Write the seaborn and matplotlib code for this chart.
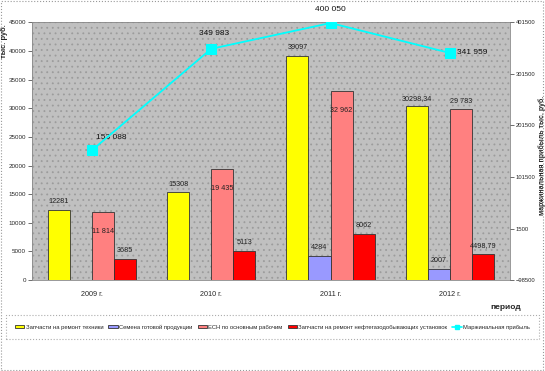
import pandas as pd
import matplotlib
matplotlib.use("Agg")
import matplotlib.pyplot as plt
import matplotlib.patches as mpatches
from matplotlib.lines import Line2D
import seaborn as sns

# data
years = ["2009 г.", "2010 г.", "2011 г.", "2012 г."]
series = [
    "Запчасти на ремонт техники",
    "Семена готовой продукции",
    "ЕСН по основным рабочим",
    "Запчасти на ремонт нефтегазодобывающих установок",
]
parts = [12281, 15308, 39097, 30298.34]
seeds = [0, 0, 4284, 2007]
esn = [11814, 19435, 32962, 29783]
oil_parts = [3685, 5113, 8062, 4498.79]
profit = [153088, 349983, 400050, 341959]

parts_lbl = ["12281", "15308", "39097", "30298,34"]
seeds_lbl = ["", "", "4284", "2007"]
esn_lbl = ["11 814", "19 435", "32 962", "29 783"]
oil_lbl = ["3685", "5113", "8062", "4498,79"]
profit_lbl = ["153 088", "349 983", "400 050", "341 959"]

colors = ["#FFFF00", "#9999FF", "#FF8080", "#FF0000"]

rows = []
for s, vals in zip(series, [parts, seeds, esn, oil_parts]):
    for y, v in zip(years, vals):
        rows.append({"year": y, "series": s, "value": v})
df = pd.DataFrame(rows)

sns.set_style("white")
plt.rcParams["font.family"] = ["Liberation Sans", "DejaVu Sans"]
plt.rcParams["hatch.linewidth"] = 0.6

fig = plt.figure(figsize=(5.45, 3.71), dpi=100)
ax = fig.add_axes([0.059, 0.245, 0.876, 0.695])
ax.set_facecolor("#C0C0C0")
ax.add_patch(mpatches.Rectangle((0, 0), 1, 1, transform=ax.transAxes,
                                facecolor="none", edgecolor="#9c9c9c",
                                hatch="...", lw=0, zorder=0))

sns.barplot(data=df, x="year", y="value", hue="series", palette=colors,
            saturation=1, width=0.74, gap=0, edgecolor="#333333", linewidth=0.6,
            ax=ax, legend=True, zorder=2)

ax.set_ylim(0, 45000)
ax.set_yticks(range(0, 45001, 5000))
ax.set_xlim(-0.5, 3.5)
ax.tick_params(axis="y", labelsize=4.5, length=3, width=0.6, color="#555555", pad=1.5)
ax.tick_params(axis="x", labelsize=5.2)
ax.set_xticks([-0.5, 0.5, 1.5, 2.5, 3.5], minor=True)
ax.tick_params(axis="x", which="major", length=0, pad=8)
ax.tick_params(axis="x", which="minor", length=3, width=0.6, color="#555555")
ax.set_xlabel("")
ax.set_ylabel("")
for sp in ax.spines.values():
    sp.set_color("#888888")
    sp.set_linewidth(0.6)
fig.text(0.008, 0.89, "тыс. руб.", fontsize=5.4, fontweight="bold",
         rotation=90, ha="center", va="center")

# bar value labels
labels_all = [parts_lbl, seeds_lbl, esn_lbl, oil_lbl]
esn_offsets = [-14, -14, -14, 6]
for i, cont in enumerate(ax.containers):
    for j, bar in enumerate(cont):
        txt = labels_all[i][j]
        if not txt:
            continue
        x = bar.get_x() + bar.get_width() / 2
        h = bar.get_height()
        off = esn_offsets[j] if i == 2 else 6
        ax.annotate(txt, (x, h), xytext=(0, off), textcoords="offset points",
                    ha="center", va="center", fontsize=5.2, color="#222222", zorder=5)

handles, lbls = ax.get_legend_handles_labels()
ax.get_legend().remove()

# line on secondary axis
ax2 = ax.twinx()
sns.lineplot(x=years, y=profit, ax=ax2, color="#00FFFF", lw=1.3, marker="s",
             markersize=7, markeredgecolor="#00FFFF", legend=False, zorder=4)
ax2.set_ylim(-98500, 401500)
ax2.set_yticks(range(-98500, 401501, 100000))
ax2.tick_params(axis="y", labelsize=4.2, length=3, width=0.6, color="#555555", pad=1.2)
ax2.set_ylabel("")
for sp in ax2.spines.values():
    sp.set_visible(False)
fig.text(0.994, 0.58, "маржинальная прибыль тыс. руб.", fontsize=5.0, fontweight="bold",
         rotation=90, ha="center", va="center")

offsets = [(14, 9), (2, 11), (0, 10), (16, 0)]
for j, (v, t) in enumerate(zip(profit, profit_lbl)):
    ax2.annotate(t, (j, v), xytext=offsets[j], textcoords="offset points",
                 ha="center", va="center", fontsize=6, color="#111111")

handles.append(Line2D([], [], color="#00FFFF", lw=1.2, marker="s", markersize=3.5))
lbls.append("Маржинальная прибыль")
leg = fig.legend(handles, lbls, loc="center", bbox_to_anchor=(0.5, 0.118), ncol=5,
                 prop={"family": ["Liberation Sans Narrow", "Liberation Sans"], "size": 4.2},
                 frameon=True, fancybox=False, handlelength=1.6,
                 handleheight=0.5, columnspacing=0.9, handletextpad=0.2,
                 borderpad=1.6, borderaxespad=0)
leg.get_frame().set_edgecolor("#999999")
leg.get_frame().set_linestyle(":")
leg.get_frame().set_linewidth(0.8)
leg.get_frame().set_facecolor("white")

fig.text(0.928, 0.172, "период", fontsize=6, fontweight="bold", ha="center", va="center")

border = mpatches.Rectangle((0.002, 0.003), 0.994, 0.994, transform=fig.transFigure,
                            facecolor="none", edgecolor="#999999", lw=0.8, ls=":")
fig.patches.append(border)

fig.savefig("out.png", dpi=100)
